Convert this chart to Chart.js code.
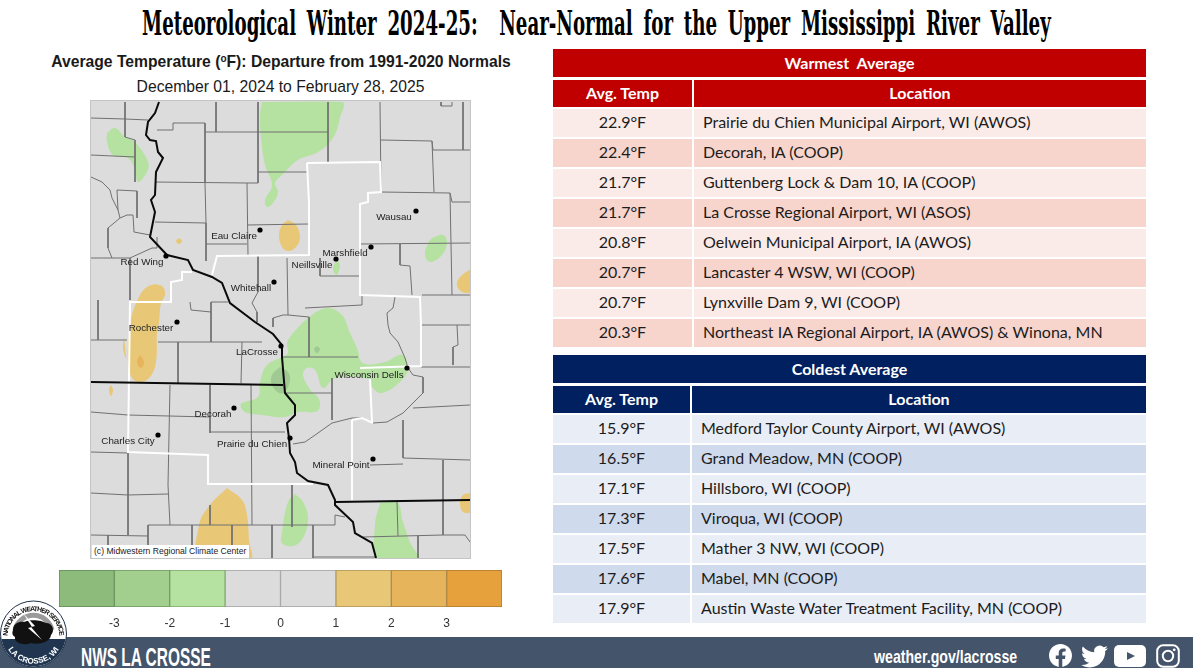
<!DOCTYPE html>
<html>
<head>
<meta charset="utf-8">
<title>Meteorological Winter 2024-25</title>
<script src="https://cdn.jsdelivr.net/npm/chart.js@4"></script>
<style>
  html, body { margin: 0; padding: 0; background: #fff; }
  body { position: relative; width: 1193px; height: 668px; overflow: hidden; font-family: 'Liberation Sans', sans-serif; }
  .abs { position: absolute; white-space: pre; }
  #title { left: 142px; top: 4px; font: bold 33px 'DejaVu Serif', serif; word-spacing: 8px; color: #000; transform-origin: left top; }
  #map-head { left: 0; width: 562px; top: 53px; text-align: center; font: bold 15.7px 'Liberation Sans', sans-serif; color: #1a1a1a; }
  #map-head sup { font-size: 10px; line-height: 0; vertical-align: 5px; }
  #map-sub { left: 0; width: 561px; top: 78px; text-align: center; font: 15.7px 'Liberation Sans', sans-serif; color: #1a1a1a; }
  #map-wrap { left: 91px; top: 101px; width: 379px; height: 457px; background: #dcdcdc; outline: 1px solid #c4c4c4; filter: blur(0.35px); }
  #mrcc { left: 92px; top: 545px; width: 157px; height: 13px; background: #fff; font: 8.6px/13px 'Liberation Sans', sans-serif; color: #222; text-indent: 2px; }
  #bar-wrap { left: 49px; top: 565px; }
  #footer { left: 0; top: 637px; width: 1193px; height: 31px; background: #44546a; }
  .foot-text { color: #fff; font-weight: bold; transform-origin: left top; font-family: 'Liberation Sans Narrow', 'Liberation Sans', sans-serif; }
  #nws { left: 81px; top: 642px; font-size: 26px; }
  #web { left: 874px; top: 646px; font-size: 19px; }
  .cell { position: absolute; display: flex; align-items: center; padding-bottom: 2px; font: 16px Lato, sans-serif; color: #1c1c1c; white-space: pre; box-sizing: border-box; }
  .center { justify-content: center; }
  .place { padding-left: 9px; }
  .head { color: #fff; font-weight: bold; }
</style>
</head>
<body>

<div class="abs" id="title">Meteorological Winter 2024-25:  Near-Normal for the Upper Mississippi River Valley</div>
<div class="abs" id="map-head">Average Temperature (<sup>o</sup>F): Departure from 1991-2020 Normals</div>
<div class="abs" id="map-sub">December 01, 2024 to February 28, 2025</div>

<div class="abs" id="map-wrap"><canvas id="map-chart" width="379" height="457"></canvas></div>
<div class="abs" id="mrcc">(c) Midwestern Regional Climate Center</div>

<div class="abs" id="bar-wrap"><canvas id="bar-chart" width="463" height="70"></canvas></div>

<div id="tables"></div>

<div class="abs" id="footer"></div>
<div class="abs foot-text" id="nws">NWS LA CROSSE</div>
<div class="abs foot-text" id="web">weather.gov/lacrosse</div>

<!-- NWS logo -->
<svg class="abs" style="left:0;top:600px" width="68" height="68" viewBox="0 0 68 68">
  <defs>
    <path id="arc-top" d="M7.5 37 A26 26 0 1 1 59.5 37"/>
    <path id="arc-bot" d="M8 49 A29.5 29.5 0 0 0 59 49"/>
    <clipPath id="logo-clip"><circle cx="33.5" cy="34" r="32.5"/></clipPath>
  </defs>
  <circle cx="33.5" cy="34" r="33" fill="#fff" stroke="#1f3048" stroke-width="1"/>
  <rect x="0" y="39" width="68" height="30" fill="#1f3550" clip-path="url(#logo-clip)"/>
  <path d="M15 30 A19 19 0 0 1 52 30" fill="none" stroke="#9a9a9a" stroke-width="5"/>
  <path d="M13 30 C13 23 20 21 24 22 C30 19 42 20 46 23 C53 23 55 31 51 35 C50 43 37 45 31 43 C24 46 14 43 15 37 C12 35 12 33 13 30 Z" fill="#111"/>
  <path d="M23 13 L35 26 L31 27 L42 40 L28 28 L32 27 Z" fill="#fff"/>
  <text font-family="Liberation Sans Narrow, Liberation Sans" font-weight="bold" font-size="6.8" fill="#111"><textPath href="#arc-top" textLength="79" startOffset="1">NATIONAL WEATHER SERVICE</textPath></text>
  <text font-family="Liberation Sans Narrow, Liberation Sans" font-weight="bold" font-size="8" fill="#fff"><textPath href="#arc-bot" startOffset="50%" text-anchor="middle">LA CROSSE, WI</textPath></text>
</svg>

<!-- Social icons -->
<svg class="abs" style="left:1049px;top:644px" width="23" height="23" viewBox="0 0 24 24"><path fill="#fff" d="M24 12.073c0-6.627-5.373-12-12-12s-12 5.373-12 12c0 5.99 4.388 10.954 10.125 11.854v-8.385H7.078v-3.47h3.047V9.43c0-3.007 1.792-4.669 4.533-4.669 1.312 0 2.686.235 2.686.235v2.953H15.83c-1.491 0-1.956.925-1.956 1.874v2.25h3.328l-.532 3.47h-2.796v8.385C19.612 23.027 24 18.062 24 12.073z"/></svg>
<svg class="abs" style="left:1081px;top:643px" width="27" height="27" viewBox="0 0 24 24"><path fill="#fff" d="M23.953 4.57a10 10 0 01-2.825.775 4.958 4.958 0 002.163-2.723c-.951.555-2.005.959-3.127 1.184a4.92 4.92 0 00-8.384 4.482C7.69 8.095 4.067 6.13 1.64 3.162a4.822 4.822 0 00-.666 2.475c0 1.71.87 3.213 2.188 4.096a4.904 4.904 0 01-2.228-.616v.06a4.923 4.923 0 003.946 4.827 4.996 4.996 0 01-2.212.085 4.936 4.936 0 004.604 3.417 9.867 9.867 0 01-6.102 2.105c-.39 0-.779-.023-1.17-.067a13.995 13.995 0 007.557 2.209c9.053 0 13.998-7.496 13.998-13.985 0-.21 0-.42-.015-.63A9.935 9.935 0 0024 4.59z"/></svg>
<svg class="abs" style="left:1114px;top:645px" width="32" height="22" viewBox="0 0 32 22"><rect width="32" height="22" rx="5" fill="#fff"/><path d="M13 7 L21 11 L13 15 Z" fill="#44546a"/></svg>
<svg class="abs" style="left:1156px;top:644px" width="24" height="24" viewBox="0 0 24 24"><rect x="1.2" y="1.2" width="21.6" height="21.6" rx="6" fill="none" stroke="#fff" stroke-width="2"/><circle cx="12" cy="12" r="5.2" fill="none" stroke="#fff" stroke-width="2"/><circle cx="18.2" cy="5.8" r="1.4" fill="#fff"/></svg>

<script>
// ── Table data ────────────────────────────────────────────────
const warmTemps = ['22.9°F', '22.4°F', '21.7°F', '21.7°F', '20.8°F', '20.7°F', '20.7°F', '20.3°F'];
const warmPlaces = [
  'Prairie du Chien Municipal Airport, WI (AWOS)',
  'Decorah, IA (COOP)',
  'Guttenberg Lock & Dam 10, IA (COOP)',
  'La Crosse Regional Airport, WI (ASOS)',
  'Oelwein Municipal Airport, IA (AWOS)',
  'Lancaster 4 WSW, WI (COOP)',
  'Lynxville Dam 9, WI (COOP)',
  'Northeast IA Regional Airport, IA (AWOS) & Winona, MN'
];
const coldTemps = ['15.9°F', '16.5°F', '17.1°F', '17.3°F', '17.5°F', '17.6°F', '17.9°F'];
const coldPlaces = [
  'Medford Taylor County Airport, WI (AWOS)',
  'Grand Meadow, MN (COOP)',
  'Hillsboro, WI (COOP)',
  'Viroqua, WI (COOP)',
  'Mather 3 NW, WI (COOP)',
  'Mabel, MN (COOP)',
  'Austin Waste Water Treatment Facility, MN (COOP)'
];

// ── Colour bar data (departure bins, °F) ──────────────────────
const binLow  = [-4, -3, -2, -1, 0, 1, 2, 3];
const binHigh = [-3, -2, -1, 0, 1, 2, 3, 4];
const binColors = ['#8cbb7c', '#a2ce8e', '#b5e2a1', '#dcdcdc', '#dcdcdc', '#e8c877', '#e6b45a', '#e6a03c'];
const binEdges  = ['#5f8c54', '#6f9a60', '#7fa86f', '#a0a0a0', '#a0a0a0', '#b0945a', '#ad8642', '#ad7a30'];

const COLOR_G1 = '#b5e2a1', COLOR_G2 = '#a0c994', COLOR_O1 = '#e8c877', COLOR_O2 = '#e6b45a';

const greenAreas = [
  [262,102, 342,102, 340,118, 333,138, 318,152, 298,160, 282,175, 275,183, 278,192, 273,203, 267,207, 265,200, 272,185, 265,165, 261,138, 260,115, 262,102],
  [107,133, 115,128, 125,137, 135,142, 148,162, 147,172, 138,182, 135,170, 128,158, 113,155, 107,142, 107,133],
  [432,238, 443,235, 447,242, 442,255, 430,262, 425,255, 428,243, 432,238],
  [337,260, 340,265, 338,273, 336,275, 333,268, 337,260],
  [292,334, 308,318, 327,308, 342,315, 350,333, 357,348, 363,363, 385,362, 402,355, 408,368, 402,380, 382,393, 372,387, 370,379, 335,378, 323,388, 315,370, 307,368, 303,375, 312,392, 318,397, 320,407, 315,412, 298,412, 285,417, 262,415, 245,412, 241,404, 258,397, 260,382, 267,365, 282,357, 288,353, 287,343, 292,334],
  [295,494, 303,502, 308,518, 303,538, 293,546, 282,543, 282,532, 288,502, 295,494],
  [380,503, 397,502, 403,522, 410,542, 418,560, 378,560, 375,525, 380,503]
];
const greenDarkAreas = [
  [280,367, 288,372, 290,380, 285,392, 279,393, 272,385, 272,375, 280,367],
  [317,346, 320,349, 317,353, 314,349, 317,346]
];
const orangeAreas = [
  [288,220, 296,225, 300,238, 295,248, 288,251, 282,247, 279,235, 282,225, 288,220],
  [179,238, 182,241, 179,244, 176,241, 179,238],
  [472,268, 460,277, 457,285, 462,292, 472,293],
  [155,284, 163,287, 165,295, 161,303, 159,322, 157,332, 156,362, 150,377, 140,382, 132,378, 128,362, 129,335, 132,315, 140,295, 147,287, 155,284],
  [124,337, 126,358, 123,348, 124,337],
  [111,385, 113,390, 111,396, 109,390, 111,385],
  [227,488, 242,500, 247,515, 249,540, 250,560, 200,560, 199,525, 210,505, 227,488],
  [472,493, 463,495, 460,503, 463,512, 472,513]
];
const orangeDarkAreas = [
  [140,355, 144,362, 141,368, 137,362, 140,355]
];

const countyLines = [
  [91,118, 125,119, 148,120], [125,102, 125,137, 135,140, 135,182], [91,155, 135,157],
  [117,190, 137,191, 137,218], [117,190, 118,210],
  [91,177, 102,182, 110,190, 112,198, 118,210, 120,218, 108,228, 108,248, 112,258, 91,258],
  [120,218, 127,215, 133,215, 134,232, 150,235], [112,258, 130,258, 152,248, 157,248, 157,237],
  [130,258, 130,300], [157,130, 173,130, 173,123, 205,123, 205,183],
  [205,132, 328,132], [216,102, 216,132], [258,102, 258,183, 247,183], [328,102, 328,162],
  [380,102, 381,192], [155,182, 247,183], [258,172, 307,172], [247,183, 248,255],
  [205,183, 206,223, 206,261], [155,222, 206,223], [206,244, 247,244], [247,225, 308,224],
  [381,140, 432,141, 433,150, 470,150], [432,141, 434,192], [463,102, 463,150],
  [441,102, 441,106, 452,106, 452,102], [381,192, 450,193, 452,202, 470,202], [450,193, 452,295],
  [360,244, 470,243], [400,244, 400,265, 410,266, 412,295], [320,258, 320,276, 360,276],
  [258,256, 258,292, 252,303, 257,312, 257,322], [287,258, 288,315, 309,317],
  [288,315, 283,315, 273,318, 273,327], [305,308, 362,305, 362,295], [309,317, 309,357],
  [422,295, 470,295], [422,325, 470,325], [421,367, 470,367], [457,325, 458,345, 453,347, 453,365],
  [395,297, 393,308, 387,313, 388,325, 390,333, 398,342, 405,358, 408,368, 413,375, 423,377, 423,393, 413,403, 403,413, 387,422, 373,423, 362,418, 352,418, 332,423, 318,433, 305,442, 293,444],
  [98,300, 98,340], [190,302, 191,310, 211,312], [211,302, 211,342], [211,302, 228,302],
  [158,342, 262,342], [178,342, 178,383], [91,340, 127,340], [242,342, 241,383],
  [283,357, 358,357], [285,393, 332,393], [332,378, 332,420], [403,420, 403,458],
  [413,408, 470,405], [403,458, 470,460], [443,460, 443,535], [370,465, 403,464],
  [170,385, 168,485], [210,385, 210,433], [210,432, 285,432], [251,385, 252,525],
  [91,412, 128,415, 210,417], [91,452, 128,453], [128,453, 128,535], [91,493, 128,495, 168,494],
  [168,485, 170,525], [210,505, 210,525], [292,485, 292,527], [148,525, 335,525, 335,515, 345,517],
  [148,525, 148,545], [91,535, 148,536], [108,535, 108,545], [192,525, 192,545], [232,525, 232,545],
  [272,525, 272,558], [313,525, 313,558], [397,502, 398,536], [363,537, 443,535, 465,535, 470,542],
  [418,536, 418,558], [313,557, 375,557]
];

const whiteLines = [
  [307,163, 380,162, 381,192, 368,193, 368,202, 360,204, 360,295, 420,297, 421,325, 421,366, 360,368],
  [307,163, 309,203, 309,255, 217,256, 212,275],
  [192,272, 182,272, 182,280, 171,282, 171,302, 130,302, 128,452, 208,455, 208,484, 313,484],
  [370,379, 372,422], [352,420, 352,500], [352,420, 362,418, 373,423]
];

const blackLines = [
  [159,102, 155,113, 148,122, 146,135, 150,140, 156,141, 158,152, 163,158, 156,172, 155,195, 151,200, 155,212, 150,237, 167,255, 188,260, 193,270, 212,277, 222,283, 230,303, 255,322, 273,334, 282,345, 282,357, 285,393, 295,405, 295,415, 287,423, 289,438, 290,453, 295,462, 297,473, 308,481, 328,485, 335,500, 335,505, 353,522, 355,533, 372,543, 376,558],
  [91,382, 283,385],
  [335,502, 470,500]
];

const cityNames = ['Wausau', 'Marshfield', 'Neillsville', 'Eau Claire', 'Red Wing', 'Whitehall', 'Rochester', 'LaCrosse', 'Wisconsin Dells', 'Decorah', 'Charles City', 'Prairie du Chien', 'Mineral Point'];
const cityX  = [416, 371, 336, 260, 166, 274, 177, 281, 407, 234, 158, 290, 373];
const cityY  = [211, 247, 259, 230, 256, 282, 322, 346, 368, 408, 435, 438, 459];
const labelX = [394, 345, 312, 234, 142, 251, 151, 257, 369, 213, 128, 252, 341];
const labelY = [217, 253, 265, 236, 262, 288, 328, 352, 375, 414, 441, 444, 465];

// ── Turn a flat x,y list into chart points ────────────────────
function toPoints(flat) {
  const pts = [];
  for (let i = 0; i < flat.length; i += 2) {
    pts.push({ x: flat[i], y: flat[i + 1] });
  }
  return pts;
}

function areaDataset(flat, color) {
  return { data: toPoints(flat), showLine: true, fill: 'shape', backgroundColor: color, borderWidth: 0, tension: 0.4, pointRadius: 0 };
}

function lineDataset(flat, color, width) {
  return { data: toPoints(flat), showLine: true, fill: false, borderColor: color, borderWidth: width, tension: 0, pointRadius: 0 };
}

// ── Datasets: the first one is drawn on top ───────────────────
const mapDatasets = [];
mapDatasets.push({
  data: cityX.map(function (x, i) { return { x: x, y: cityY[i] }; }),
  pointRadius: 2.6, pointBackgroundColor: '#000', pointBorderWidth: 0, showLine: false
});
blackLines.forEach(function (l) { mapDatasets.push(lineDataset(l, '#0a0a0a', 2)); });
whiteLines.forEach(function (l) { mapDatasets.push(lineDataset(l, '#ffffff', 2)); });
countyLines.forEach(function (l) { mapDatasets.push(lineDataset(l, '#707070', 1)); });
greenDarkAreas.forEach(function (a) { mapDatasets.push(areaDataset(a, COLOR_G2)); });
orangeDarkAreas.forEach(function (a) { mapDatasets.push(areaDataset(a, COLOR_O2)); });
greenAreas.forEach(function (a) { mapDatasets.push(areaDataset(a, COLOR_G1)); });
orangeAreas.forEach(function (a) { mapDatasets.push(areaDataset(a, COLOR_O1)); });

// ── City labels go on top of the map ──────────────────────────
const cityLabelPlugin = {
  id: 'cityLabels',
  afterDatasetsDraw: function (chart) {
    const ctx = chart.ctx;
    ctx.save();
    ctx.font = "9.8px 'Liberation Sans', sans-serif";
    ctx.fillStyle = '#222';
    ctx.textAlign = 'center';
    ctx.textBaseline = 'middle';
    cityNames.forEach(function (name, i) {
      ctx.fillText(name, chart.scales.x.getPixelForValue(labelX[i]), chart.scales.y.getPixelForValue(labelY[i]));
    });
    ctx.restore();
  }
};

new Chart(document.getElementById('map-chart'), {
  type: 'scatter',
  data: { datasets: mapDatasets },
  plugins: [cityLabelPlugin],
  options: {
    responsive: false,
    animation: false,
    events: [],
    layout: { padding: 0, autoPadding: false },
    plugins: { legend: { display: false }, tooltip: { enabled: false } },
    scales: {
      x: { type: 'linear', display: false, min: 91, max: 470 },
      y: { type: 'linear', display: false, min: 101, max: 558, reverse: true }
    }
  }
});

// ── Colour bar ────────────────────────────────────────────────
new Chart(document.getElementById('bar-chart'), {
  type: 'bar',
  data: {
    labels: ['departure'],
    datasets: binLow.map(function (low, i) {
      return {
        data: [[low, binHigh[i]]],
        grouped: false,
        backgroundColor: binColors[i],
        borderColor: binEdges[i],
        borderWidth: 1,
        borderSkipped: false,
        barPercentage: 1,
        categoryPercentage: 1
      };
    })
  },
  options: {
    indexAxis: 'y',
    responsive: false,
    animation: false,
    events: [],
    layout: { padding: { left: 10, right: 10, top: 5, bottom: 0 } },
    plugins: { legend: { display: false }, tooltip: { enabled: false } },
    scales: {
      y: { display: false },
      x: {
        type: 'linear', min: -4, max: 4,
        grid: { display: false, drawTicks: false },
        border: { display: false },
        afterFit: function (scale) { scale.height = 28; },
        ticks: {
          stepSize: 1, padding: 9, maxRotation: 0, autoSkip: false, color: '#333',
          font: { family: "'Liberation Sans', sans-serif", size: 12 },
          callback: function (v) { return Math.abs(v) === 4 ? '' : String(v); }
        }
      }
    }
  }
});

// ── Tables ────────────────────────────────────────────────────
function cell(left, top, width, height, text, bg, extra) {
  return '<div class="cell ' + extra + '" style="left:' + left + 'px;top:' + top + 'px;width:' + width + 'px;height:' + height + 'px;background:' + bg + '">' + text.replace('&', '&amp;') + '</div>';
}

function renderTable(cfg) {
  let html = '';
  html += cell(553, cfg.top, 593, 28, cfg.title, cfg.headColor, 'center head');
  html += cell(553, cfg.top + 31, cfg.split - 553, 27, 'Avg. Temp', cfg.headColor, 'center head');
  html += cell(cfg.split + 2, cfg.top + 31, 1146 - cfg.split - 2, 27, 'Location', cfg.headColor, 'center head');
  cfg.temps.forEach(function (temp, i) {
    const top = cfg.top + 59.5 + i * 30;
    const bg = i % 2 === 0 ? cfg.rowA : cfg.rowB;
    html += cell(553, top, cfg.split - 553, 28.5, temp, bg, 'center');
    html += cell(cfg.split + 2, top, 1146 - cfg.split - 2, 28.5, cfg.places[i], bg, 'place');
  });
  return html;
}

document.getElementById('tables').innerHTML =
  renderTable({ top: 49, split: 692, title: 'Warmest  Average', headColor: '#c00000', rowA: '#fbebe8', rowB: '#f7d5cd', temps: warmTemps, places: warmPlaces }) +
  renderTable({ top: 355, split: 690, title: 'Coldest Average', headColor: '#002060', rowA: '#e9edf5', rowB: '#cfdaec', temps: coldTemps, places: coldPlaces });

// ── Squeeze the condensed texts to their measured width ───────
function fitWidth(id, width) {
  const el = document.getElementById(id);
  el.style.transform = 'scaleX(' + (width / el.offsetWidth) + ')';
}
fitWidth('title', 909);
fitWidth('nws', 130);
fitWidth('web', 143);
</script>
</body>
</html>
